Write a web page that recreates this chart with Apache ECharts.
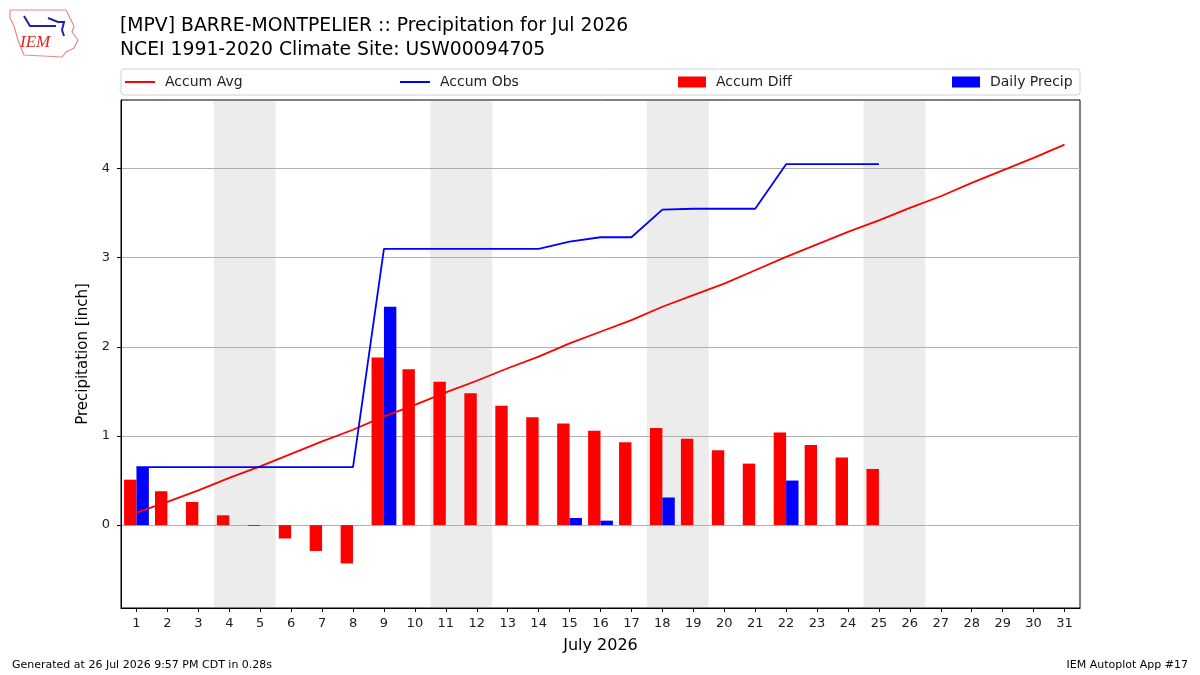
<!DOCTYPE html>
<html>
<head>
<meta charset="utf-8">
<script src="https://cdn.jsdelivr.net/npm/echarts@6/dist/echarts.min.js"></script>
<style>
	html, body { margin: 0; padding: 0; background: #fff; }
	#chart { width: 1200px; height: 675px; }
</style>
</head>
<body>
<div id="chart"></div>
<script>
// day of month ticks
const days = [1, 2, 3, 4, 5, 6, 7, 8, 9, 10, 11, 12, 13, 14, 15, 16, 17, 18, 19, 20, 21, 22, 23, 24, 25, 26, 27, 28, 29, 30, 31]
const yTicks = [0, 1, 2, 3, 4]

// climatology accumulated average (inch), days 1..31
const accumAvg = [0.14, 0.26, 0.39, 0.53, 0.66, 0.80, 0.94, 1.07, 1.22, 1.35, 1.49, 1.62, 1.76, 1.89, 2.04, 2.17,
	2.30, 2.45, 2.58, 2.71, 2.86, 3.01, 3.15, 3.29, 3.42, 3.56, 3.69, 3.84, 3.98, 4.12, 4.27]
// observed accumulation, days 1..25
const accumObs = [0.65, 0.65, 0.65, 0.65, 0.65, 0.65, 0.65, 0.65, 3.10, 3.10, 3.10, 3.10, 3.10, 3.10, 3.18, 3.23,
	3.23, 3.54, 3.55, 3.55, 3.55, 4.05, 4.05, 4.05, 4.05]
// obs - avg, days 1..25
const accumDiff = [0.51, 0.38, 0.26, 0.11, -0.01, -0.15, -0.29, -0.43, 1.88, 1.75, 1.61, 1.48, 1.34, 1.21, 1.14, 1.06,
	0.93, 1.09, 0.97, 0.84, 0.69, 1.04, 0.90, 0.76, 0.63]
// daily precip, days 1..25
const dailyPrecip = [0.65, 0, 0, 0, 0, 0, 0, 0, 2.45, 0, 0, 0, 0, 0, 0.08, 0.05,
	0, 0.31, 0, 0, 0, 0.50, 0, 0, 0]
// weekend shading
const weekends = [[3.5, 5.5], [10.5, 12.5], [17.5, 19.5], [24.5, 26.5]]

const yMin = -0.93
const yMax = 4.77

const pairs = arr => arr.map((v, i) => [days[i], v])

const chart = echarts.init(document.getElementById('chart'))
const font = 'DejaVu Sans'
const lineIcon = 'path://M0,0L30,0L30,2L0,2Z'

chart.setOption({
	animation: false,
	textStyle: { fontFamily: font },
	title: [
		{
			text: '[MPV] BARRE-MONTPELIER :: Precipitation for Jul 2026\nNCEI 1991-2020 Climate Site: USW00094705',
			left: 120, top: 14, padding: 0,
			textStyle: { fontFamily: font, fontSize: 18.8, fontWeight: 'normal', color: '#000', lineHeight: 24 }
		},
		{
			text: 'Generated at 26 Jul 2026 9:57 PM CDT in 0.28s',
			left: 12, top: 660, padding: 0,
			textStyle: { fontFamily: font, fontSize: 11, fontWeight: 'normal', color: '#000' }
		},
		{
			text: 'IEM Autoplot App #17',
			right: 12, top: 660, padding: 0,
			textStyle: { fontFamily: font, fontSize: 11, fontWeight: 'normal', color: '#000' }
		}
	],
	legend: [
		{ data: ['Accum Avg'], left: 125, icon: lineIcon, itemHeight: 2 },
		{ data: ['Accum Obs'], left: 400, icon: lineIcon, itemHeight: 2 },
		{ data: ['Accum Diff'], left: 678, icon: 'rect', itemWidth: 28, itemHeight: 11 },
		{ data: ['Daily Precip'], left: 952, icon: 'rect', itemWidth: 28, itemHeight: 11 }
	].map(l => Object.assign({
		padding: 0,
		top: 75,
		itemWidth: 30,
		textStyle: { fontFamily: font, fontSize: 14, color: '#222', padding: [0, 0, 0, 5] },
		selectedMode: false
	}, l)),
	graphic: [
		{
			type: 'rect', shape: { x: 121, y: 69, width: 959, height: 26, r: 3 },
			style: { fill: 'none', stroke: '#d0d0d0', lineWidth: 1 }
		},
		// rough IEM logo
		{
			type: 'polyline',
			shape: { points: [[10, 10], [66, 10], [70, 18], [74, 26], [72, 32], [78, 40], [74, 48], [66, 52], [62, 57], [24, 55], [18, 40], [14, 26], [10, 18], [10, 10]] },
			style: { fill: 'none', stroke: '#e88', lineWidth: 1.2 }
		},
		{
			type: 'text', left: 20, top: 34,
			style: { text: 'IEM', fill: '#d22', font: 'italic 17px "Liberation Serif"' }
		},
		{
			type: 'polyline',
			shape: { points: [[24, 16], [30, 26], [56, 26]] },
			style: { fill: 'none', stroke: '#22a', lineWidth: 2 }
		},
		{
			type: 'polyline',
			shape: { points: [[48, 18], [58, 22], [64, 22], [62, 30], [64, 36]] },
			style: { fill: 'none', stroke: '#22a', lineWidth: 2 }
		}
	],
	grid: {
		left: 121, right: 120, top: 100, bottom: 67,
		show: true, borderColor: '#000', borderWidth: 1, backgroundColor: 'transparent'
	},
	xAxis: {
		type: 'value',
		min: 0.5, max: 31.5,
		name: 'July 2026',
		nameLocation: 'middle',
		nameGap: 30,
		nameTextStyle: { fontFamily: font, fontSize: 16, color: '#000' },
		axisLine: { show: true, onZero: false, lineStyle: { color: '#000' } },
		axisTick: { show: true, length: 4, customValues: days, lineStyle: { color: '#000' } },
		axisLabel: { customValues: days, fontSize: 13, color: '#222', margin: 9, fontFamily: font },
		splitLine: { show: false }
	},
	yAxis: {
		type: 'value',
		min: yMin, max: yMax,
		name: 'Precipitation [inch]',
		nameLocation: 'middle',
		nameGap: 25,
		nameTextStyle: { fontFamily: font, fontSize: 15, color: '#000' },
		axisLine: { show: true, onZero: false, lineStyle: { color: '#000' } },
		axisTick: { show: true, length: 4, customValues: yTicks, lineStyle: { color: '#000' } },
		axisLabel: { customValues: yTicks, fontSize: 13, color: '#222', margin: 11, fontFamily: font },
		splitLine: { show: true, lineStyle: { color: '#b0b0b0', width: 1 } }
	},
	series: [
		{
			// weekend shading
			name: 'shade',
			type: 'line',
			data: [],
			z: -1,
			silent: true,
			markArea: {
				silent: true,
				z: -1,
				itemStyle: { color: '#ececec' },
				data: weekends.map(w => [{ xAxis: w[0], yAxis: yMin + 0.01 }, { xAxis: w[1], yAxis: yMax - 0.01 }])
			}
		},
		{
			name: 'Accum Avg',
			type: 'line',
			data: pairs(accumAvg),
			showSymbol: false,
			color: '#ff0000',
			lineStyle: { width: 1.8 },
			z: 4
		},
		{
			name: 'Accum Obs',
			type: 'line',
			data: pairs(accumObs),
			showSymbol: false,
			color: '#0000ff',
			lineStyle: { width: 1.8 },
			z: 4
		},
		{
			name: 'Accum Diff',
			type: 'bar',
			data: pairs(accumDiff),
			color: '#ff0000',
			barWidth: 12.4,
			barGap: '0%'
		},
		{
			name: 'Daily Precip',
			type: 'bar',
			data: pairs(dailyPrecip),
			color: '#0000ff',
			barWidth: 12.4,
			barGap: '0%'
		}
	]
})
</script>
</body>
</html>
